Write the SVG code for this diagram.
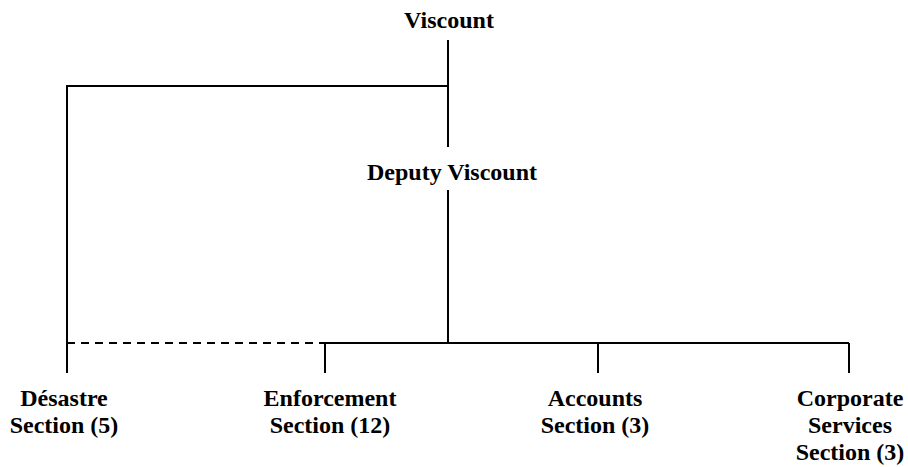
<svg xmlns="http://www.w3.org/2000/svg" width="908" height="467" viewBox="0 0 908 467">
<style>
text{font-family:"Liberation Serif","Times New Roman",serif;font-weight:bold;font-size:24px;fill:#000;text-anchor:middle}
.l{stroke:#000;stroke-width:2;fill:none}
.d{stroke-dasharray:8,6}
</style>
<rect width="908" height="467" fill="#fff"/>
<g id="connectors">
<path class="l" d="M448,40V147M448,86H67V373M448,190V343M325,343H849M325,343V373M598,343V373M849,343V373"/>
<path class="l d" d="M67,343H325"/>
</g>
<g id="viscount"><text x="449" y="28">Viscount</text></g>
<g id="deputy"><text x="452" y="180">Deputy Viscount</text></g>
<g id="desastre"><text x="64" y="406">Désastre</text><text x="64" y="433">Section (5)</text></g>
<g id="enforcement"><text x="330" y="406">Enforcement</text><text x="330" y="433">Section (12)</text></g>
<g id="accounts"><text x="595" y="406">Accounts</text><text x="595" y="433">Section (3)</text></g>
<g id="corporate"><text x="850" y="406">Corporate</text><text x="850" y="433">Services</text><text x="850" y="460">Section (3)</text></g>
</svg>
